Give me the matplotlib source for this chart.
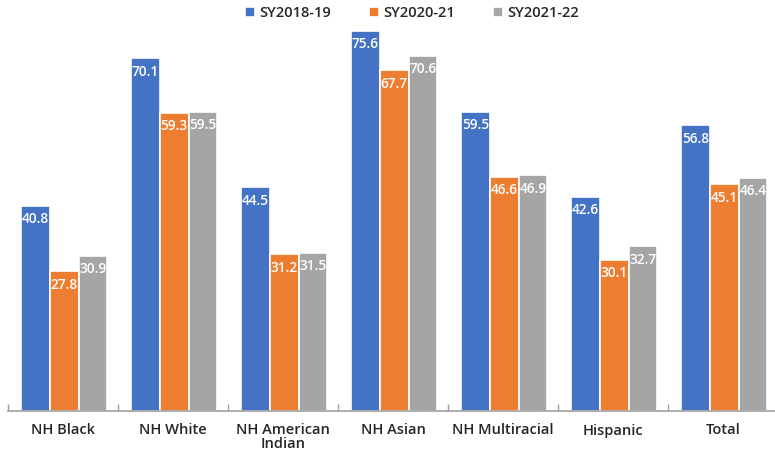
import matplotlib
matplotlib.use("Agg")
import matplotlib.pyplot as plt
import numpy as np

plt.rcParams["font.family"] = ["Open Sans", "DejaVu Sans"]

CATEGORIES = ["NH Black", "NH White", "NH American\nIndian", "NH Asian",
              "NH Multiracial", "Hispanic", "Total"]
SERIES = ["SY2018-19", "SY2020-21", "SY2021-22"]
SY2018_19 = [40.8, 70.1, 44.5, 75.6, 59.5, 42.6, 56.8]
SY2020_21 = [27.8, 59.3, 31.2, 67.7, 46.6, 30.1, 45.1]
SY2021_22 = [30.9, 59.5, 31.5, 70.6, 46.9, 32.7, 46.4]
COLORS = ["#4472C4", "#ED7D31", "#A5A5A5"]

fig = plt.figure(figsize=(7.75, 4.51), dpi=100)
# axes runs from the left tick to just past the right edge
ax = fig.add_axes([8 / 775, 40 / 451, 770 / 775, 411 / 451])

x = np.arange(len(CATEGORIES))
w = 0.262
for i, (vals, name, col) in enumerate(zip([SY2018_19, SY2020_21, SY2021_22], SERIES, COLORS)):
    bars = ax.bar(x + (i - 1) * w + 0.01, vals, w, color=col, edgecolor="white",
                  linewidth=1.2, label=name)
    for b, v in zip(bars, vals):
        ax.text(b.get_x() + b.get_width() / 2, v - 1.3, f"{v:.1f}",
                ha="center", va="top", color="white", fontsize=9.8,
                fontweight="semibold")

ax.set_xlim(-0.5, 6.5)
ax.set_ylim(0, 81.7)
ax.set_yticks([])
ax.set_xticks(x)
ax.set_xticklabels(CATEGORIES, fontsize=10.5, color="#262626", fontweight="semibold",
                   linespacing=1.0)
ax.tick_params(axis="x", length=0, pad=9)
ax.set_xticks(np.arange(-0.5, 7.0, 1.0), minor=True)
ax.tick_params(axis="x", which="minor", direction="in", length=5, color="#A0A0A0", width=1)
for s in ["top", "right", "left"]:
    ax.spines[s].set_visible(False)
ax.spines["bottom"].set_color("#A0A0A0")
ax.spines["bottom"].set_linewidth(1.2)

handles, labels = ax.get_legend_handles_labels()
leg = fig.legend(handles, labels, loc="center", bbox_to_anchor=(412 / 775, 1 - 13 / 451),
                 ncol=3, frameon=False, fontsize=10.5, handlelength=0.7, handleheight=0.7,
                 handletextpad=0.3, columnspacing=2.6)
for t in leg.get_texts():
    t.set_fontweight("semibold")
    t.set_color("#262626")

fig.savefig("out.png", dpi=100)
